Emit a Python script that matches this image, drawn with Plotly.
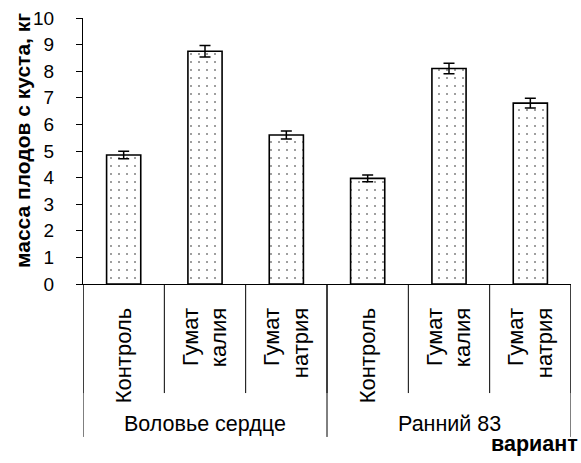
import plotly.graph_objects as go

groups = ["Воловье сердце", "Ранний 83"]
categories = ["Контроль", "Гумат<br>калия", "Гумат<br>натрия",
              "Контроль", "Гумат<br>калия", "Гумат<br>натрия"]
values = [4.85, 8.75, 5.6, 3.97, 8.1, 6.8]
errors = [0.14, 0.22, 0.15, 0.13, 0.2, 0.18]
y_ticks = [0, 1, 2, 3, 4, 5, 6, 7, 8, 9, 10]

FONT = "Liberation Sans, Arial, sans-serif"
xs = list(range(len(values)))

fig = go.Figure()
fig.add_trace(go.Bar(
    x=xs, y=values,
    marker=dict(color="white",
                line=dict(color="#000000", width=1.6),
                pattern=dict(shape=".", fgcolor="#000000", bgcolor="white",
                             size=8, solidity=0.05)),
    error_y=dict(type="data", array=errors, visible=True,
                 color="#000000", thickness=1.5, width=5.5),
    width=0.42,
))

n = len(values)
shapes = []
# short separators between categories
for i in range(n + 1):
    shapes.append(dict(type="line", xref="x", yref="paper",
                       x0=i - 0.5, x1=i - 0.5, y0=0, y1=-0.41,
                       line=dict(color="black", width=1)))
# long separators between groups
per_group = n // len(groups)
for g in range(len(groups) + 1):
    xx = g * per_group - 0.5
    shapes.append(dict(type="line", xref="x", yref="paper",
                       x0=xx, x1=xx, y0=0, y1=-0.575,
                       line=dict(color="black", width=1)))
annotations = []
for g, name in enumerate(groups):
    annotations.append(dict(x=g * per_group + (per_group - 1) / 2, y=-0.527,
                            xref="x", yref="paper", text=name, showarrow=False,
                            font=dict(family=FONT, size=21.5, color="black"),
                            xanchor="center", yanchor="middle"))
annotations.append(dict(x=1.0, y=-0.6, xref="paper", yref="paper",
                        text="<b>вариант</b>", showarrow=False,
                        font=dict(family=FONT, size=21.5, color="black"),
                        xanchor="right", yanchor="middle", xshift=9))
annotations.append(dict(x=0, y=0.5, xref="paper", yref="paper",
                        text="<b>масса плодов с куста, кг</b>", showarrow=False,
                        textangle=-90,
                        font=dict(family=FONT, size=21, color="black"),
                        xanchor="center", yanchor="middle",
                        xshift=-61, yshift=10))

fig.update_layout(
    width=581, height=463,
    margin=dict(l=83, r=10, t=18, b=179, autoexpand=False),
    paper_bgcolor="white", plot_bgcolor="white",
    showlegend=False,
    font=dict(family=FONT, color="black"),
    shapes=shapes, annotations=annotations,
    xaxis=dict(range=[-0.5, n - 0.5], tickmode="array", tickvals=xs,
               ticktext=categories, tickangle=-90, ticks="",
               showline=True, linecolor="black", linewidth=1,
               showgrid=False, zeroline=False, automargin=False,
               tickfont=dict(family=FONT, size=22, color="black"),
               ticklabelstandoff=14),
    yaxis=dict(range=[0, 10], tickmode="array", tickvals=y_ticks,
               ticks="outside", ticklen=6, tickcolor="black",
               showline=True, linecolor="black", linewidth=1,
               showgrid=False, zeroline=False, automargin=False,
               tickfont=dict(family=FONT, size=19, color="black"),
               ticklabelstandoff=18),
)

fig.write_html("out.html",
               config={"displayModeBar": False},
               post_script="document.body.style.margin='0';"
                           "document.body.style.overflow='hidden';")
